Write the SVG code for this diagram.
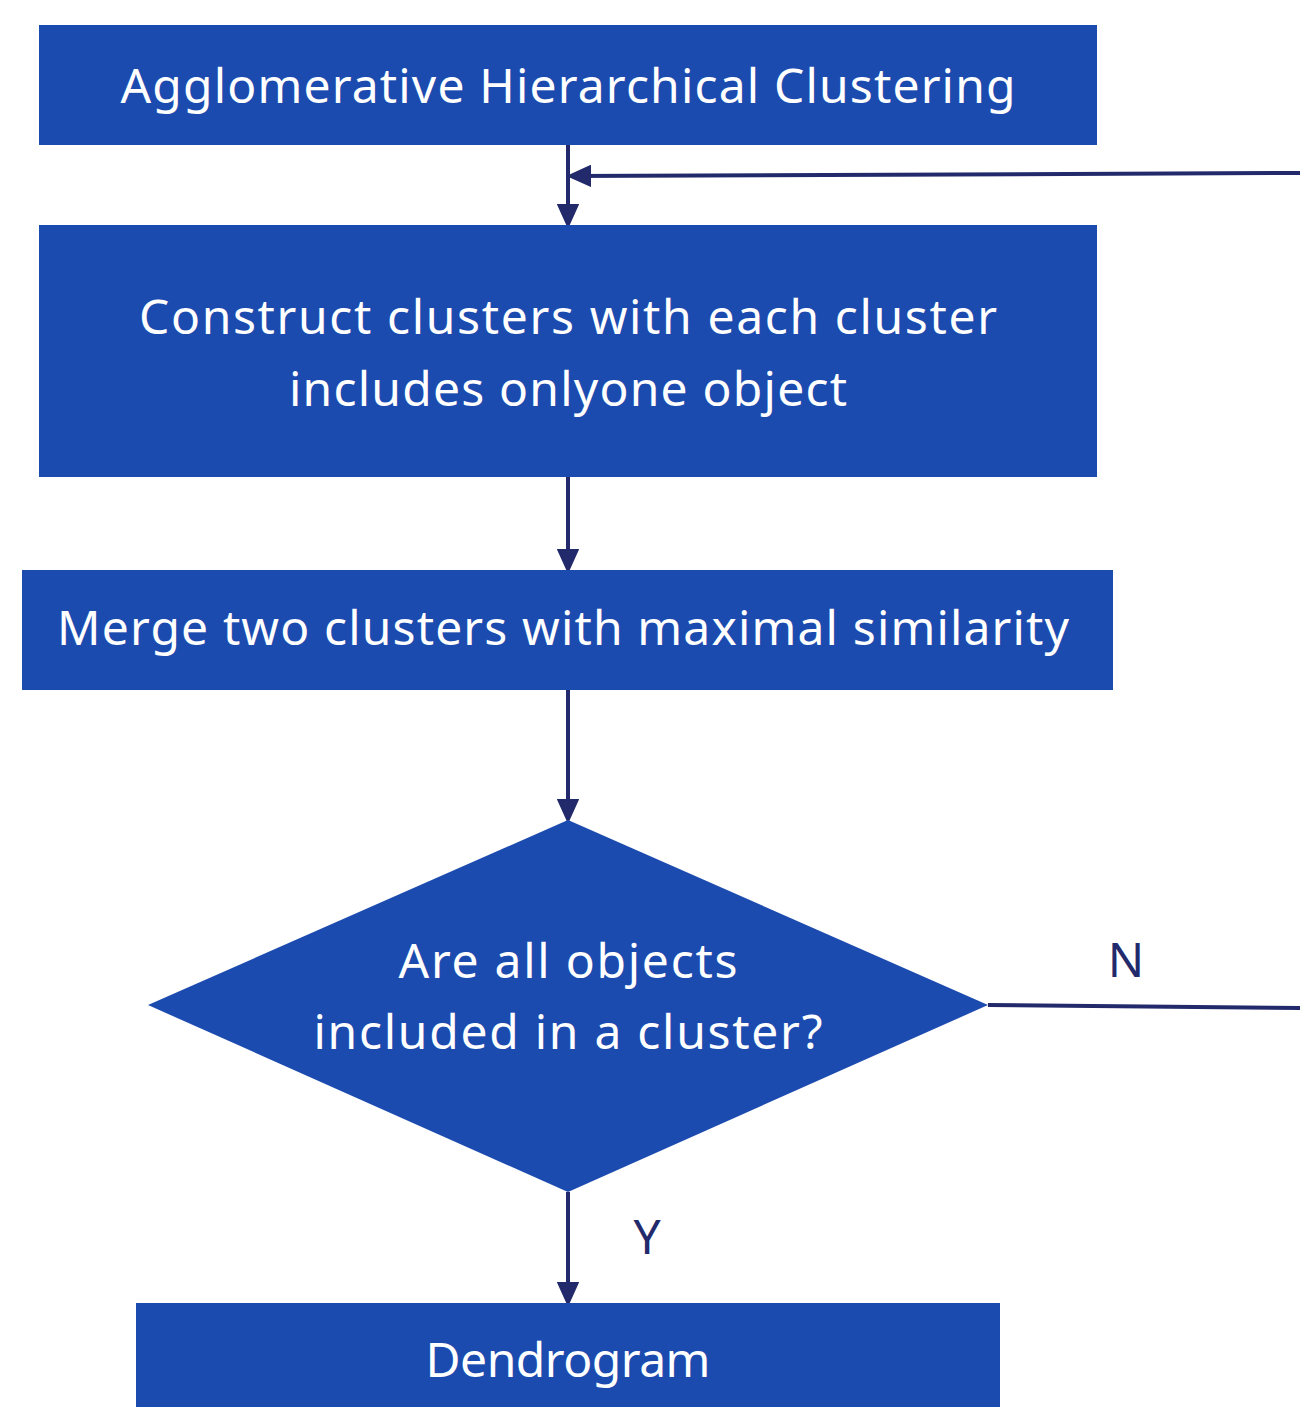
<svg xmlns="http://www.w3.org/2000/svg" width="1300" height="1407" viewBox="0 0 1300 1407">
<style>
.box{fill:#1c4bb0}
.t{font-family:"Noto Sans","Liberation Sans",sans-serif;font-size:48px;fill:#ffffff;text-anchor:middle}
.lbl{font-family:"Noto Sans","Liberation Sans",sans-serif;font-size:48px;fill:#222a6b;text-anchor:middle}
.ln{stroke:#222a6b;stroke-width:4;fill:none}
</style>
<defs>
<marker id="ah" viewBox="0 0 10 10" refX="9" refY="5" markerWidth="5.5" markerHeight="5.5" orient="auto" markerUnits="strokeWidth">
<path d="M0,0.5 L10,5 L0,9.5 Z" fill="#222a6b" stroke="#222a6b" stroke-width="1" stroke-linejoin="round"/>
</marker>
</defs>
<rect width="1300" height="1407" fill="#ffffff"/>
<g id="connectors">
<line class="ln" x1="568" y1="145" x2="568" y2="224" marker-end="url(#ah)"/>
<line class="ln" x1="1300" y1="173" x2="571" y2="176" marker-end="url(#ah)"/>
<line class="ln" x1="568" y1="477" x2="568" y2="569" marker-end="url(#ah)"/>
<line class="ln" x1="568" y1="690" x2="568" y2="819" marker-end="url(#ah)"/>
<line class="ln" x1="988" y1="1005" x2="1300" y2="1008"/>
<line class="ln" x1="568" y1="1192" x2="568" y2="1302" marker-end="url(#ah)"/>
<text class="lbl" x="1126" y="977">N</text>
<text class="lbl" x="647" y="1254">Y</text>
</g>
<g id="n1">
<rect class="box" x="39" y="25" width="1058" height="120"/>
<text class="t" x="568" y="103" textLength="895" lengthAdjust="spacing">Agglomerative Hierarchical Clustering</text>
</g>
<g id="n2">
<rect class="box" x="39" y="225" width="1058" height="252"/>
<text class="t" x="568" y="334" textLength="858" lengthAdjust="spacing">Construct clusters with each cluster</text>
<text class="t" x="568" y="406" textLength="558" lengthAdjust="spacing">includes onlyone object</text>
</g>
<g id="n3">
<rect class="box" x="22" y="570" width="1091" height="120"/>
<text class="t" x="563" y="645" textLength="1012" lengthAdjust="spacing">Merge two clusters with maximal similarity</text>
</g>
<g id="n4">
<polygon class="box" points="568,820 988,1005 568,1192 148,1005"/>
<text class="t" x="568" y="978" textLength="339" lengthAdjust="spacing">Are all objects</text>
<text class="t" x="568" y="1049" textLength="509" lengthAdjust="spacing">included in a cluster?</text>
</g>
<g id="n5">
<rect class="box" x="136" y="1303" width="864" height="104"/>
<text class="t" x="568" y="1377" textLength="285" lengthAdjust="spacing">Dendrogram</text>
</g>
</svg>
